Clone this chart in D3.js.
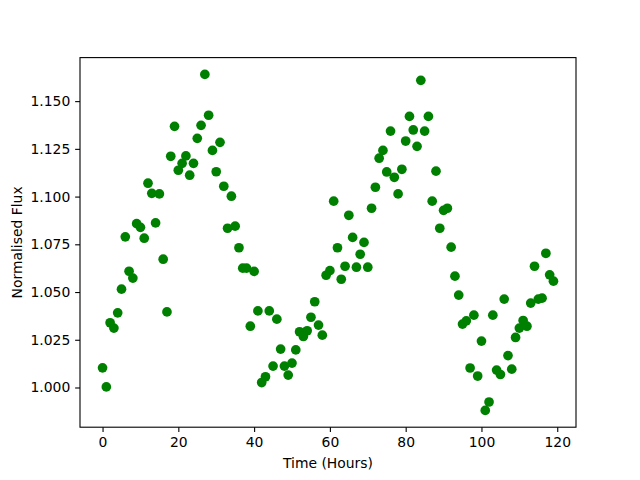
<!DOCTYPE html>
<html>
<head>
<meta charset="utf-8">
<script src="https://cdn.jsdelivr.net/npm/d3@7"></script>
<style>
  html, body { margin: 0; padding: 0; background: #fff; }
  svg { display: block; }
  text { font-family: "DejaVu Sans", sans-serif; }
</style>
</head>
<body>
<svg id="chart" width="640" height="480"></svg>
<script>
// ---- data ----
const timeHours = [
  0,1,2,3,4,5,6,7,8,9,10,11,12,13,14,15,16,17,18,19,
  20,21,22,23,24,25,26,27,28,29,30,31,32,33,34,35,36,37,38,39,
  40,41,42,43,44,45,46,47,48,49,50,51,52,53,54,55,56,57,58,59,
  60,61,62,63,64,65,66,67,68,69,70,71,72,73,74,75,76,77,78,79,
  80,81,82,83,84,85,86,87,88,89,90,91,92,93,94,95,96,97,98,99,
  100,101,102,103,104,105,106,107,108,109,110,111,112,113,114,115,116,117,118,119
];
const normalisedFlux = [
  1.0103,1.0003,1.0339,1.0311,1.0391,1.0515,1.0789,1.0609,1.0573,1.0858,
  1.0839,1.0782,1.1070,1.1017,1.0862,1.1014,1.0672,1.0396,1.1211,1.1368,
  1.1138,1.1174,1.1213,1.1112,1.1174,1.1305,1.1373,1.1640,1.1426,1.1242,
  1.1130,1.1284,1.1054,1.0834,1.1002,1.0845,1.0732,1.0625,1.0625,1.0321,
  1.0608,1.0401,1.0026,1.0056,1.0401,1.0112,1.0358,1.0201,1.0112,1.0065,
  1.0128,1.0197,1.0292,1.0267,1.0297,1.0368,1.0449,1.0327,1.0274,1.0588,
  1.0612,1.0976,1.0732,1.0567,1.0635,1.0902,1.0786,1.0630,1.0698,1.0760,
  1.0630,1.0939,1.1049,1.1201,1.1242,1.1129,1.1343,1.1101,1.1014,1.1143,
  1.1291,1.1420,1.1349,1.1263,1.1609,1.1343,1.1420,1.0976,1.1133,1.0834,
  1.0928,1.0939,1.0735,1.0583,1.0484,1.0332,1.0349,1.0102,1.0379,1.0060,
  1.0243,0.9880,0.9924,1.0379,1.0091,1.0068,1.0463,1.0167,1.0096,1.0262,
  1.0311,1.0351,1.0321,1.0442,1.0635,1.0463,1.0468,1.0703,1.0590,1.0557
];
const xTicks = [0, 20, 40, 60, 80, 100, 120];
const yTicks = [1.000, 1.025, 1.050, 1.075, 1.100, 1.125, 1.150];
const xLabel = "Time (Hours)";
const yLabel = "Normalised Flux";

// ---- layout (matplotlib default figure 6.4x4.8 @100dpi) ----
const plotL = 80, plotR = 576, plotT = 57.6, plotB = 427.2;
const tickLen = 4.86, tickPad = 4.86;
const fontSize = 13.9;

const svg = d3.select("#chart");

function padded(ext) {
  const r = ext[1] - ext[0];
  return [ext[0] - 0.05 * r, ext[1] + 0.05 * r];
}

const xScale = d3.scaleLinear().domain(padded(d3.extent(timeHours))).range([plotL, plotR]);
const yScale = d3.scaleLinear().domain(padded(d3.extent(normalisedFlux))).range([plotB, plotT]);

// points
const pts = timeHours.map((t, i) => ({ t, f: normalisedFlux[i] }));
svg.append("g")
  .selectAll("circle")
  .data(pts)
  .join("circle")
  .attr("cx", d => xScale(d.t))
  .attr("cy", d => yScale(d.f))
  .attr("r", 4.85)
  .attr("fill", "#008000");

// axes
const xAxis = d3.axisBottom(xScale).tickValues(xTicks).tickFormat(d3.format("d"))
  .tickSize(tickLen).tickPadding(tickPad);
const yAxis = d3.axisLeft(yScale).tickValues(yTicks).tickFormat(d3.format(".3f"))
  .tickSize(tickLen).tickPadding(tickPad);

const gx = svg.append("g").attr("transform", `translate(0,${plotB})`).call(xAxis);
const gy = svg.append("g").attr("transform", `translate(${plotL},0)`).call(yAxis);
[gx, gy].forEach(g => {
  g.select(".domain").remove();
  g.selectAll(".tick line").attr("stroke", "#000").attr("stroke-width", 1.1);
  g.selectAll(".tick text")
    .attr("fill", "#000")
    .style("font-family", '"DejaVu Sans", sans-serif')
    .style("font-size", fontSize + "px");
});

// spines
svg.append("rect")
  .attr("x", plotL).attr("y", plotT)
  .attr("width", plotR - plotL).attr("height", plotB - plotT)
  .attr("fill", "none").attr("stroke", "#000").attr("stroke-width", 1.1);

// labels
svg.append("text")
  .attr("x", (plotL + plotR) / 2).attr("y", 468)
  .attr("text-anchor", "middle")
  .style("font-size", fontSize + "px")
  .attr("fill", "#000")
  .text(xLabel);

svg.append("text")
  .attr("transform", `translate(22,${(plotT + plotB) / 2}) rotate(-90)`)
  .attr("text-anchor", "middle")
  .style("font-size", fontSize + "px")
  .attr("fill", "#000")
  .text(yLabel);
</script>
</body>
</html>
